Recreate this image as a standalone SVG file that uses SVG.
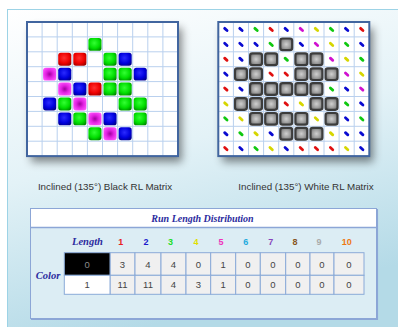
<svg xmlns="http://www.w3.org/2000/svg" xmlns:xlink="http://www.w3.org/1999/xlink" width="398" height="327" viewBox="0 0 398 327">
<defs>
<linearGradient id="bg" x1="0" y1="0" x2="0.3" y2="1">
<stop offset="0" stop-color="#ffffff"/>
<stop offset="0.5" stop-color="#e3f2f7"/>
<stop offset="1" stop-color="#b4dae7"/>
</linearGradient>
<radialGradient id="gG" cx="0.45" cy="0.4" r="0.7"><stop offset="0" stop-color="#33ff33"/><stop offset="0.6" stop-color="#00dd00"/><stop offset="1" stop-color="#008800"/></radialGradient>
<radialGradient id="gR" cx="0.45" cy="0.4" r="0.7"><stop offset="0" stop-color="#ff3030"/><stop offset="0.6" stop-color="#ee0000"/><stop offset="1" stop-color="#990000"/></radialGradient>
<radialGradient id="gB" cx="0.45" cy="0.4" r="0.7"><stop offset="0" stop-color="#2a2aff"/><stop offset="0.6" stop-color="#0000dd"/><stop offset="1" stop-color="#000088"/></radialGradient>
<radialGradient id="gM" cx="0.5" cy="0.5" r="0.6"><stop offset="0" stop-color="#a000a0"/><stop offset="0.45" stop-color="#e020e0"/><stop offset="1" stop-color="#ff55ff"/></radialGradient>
<radialGradient id="gK" cx="0.5" cy="0.5" r="0.6"><stop offset="0" stop-color="#d0d0d0"/><stop offset="0.6" stop-color="#9a9a9a"/><stop offset="1" stop-color="#6a6a6a"/></radialGradient>
<filter id="sh" x="-20%" y="-20%" width="145%" height="150%">
<feDropShadow dx="4" dy="6" stdDeviation="4" flood-color="#000" flood-opacity="0.45"/>
</filter>
<rect id="sq" x="1" y="1" width="13.1" height="12.9" rx="2.6"/>
<rect id="gs" x="1.6" y="1.6" width="11.9" height="11.7" rx="2.2" fill="url(#gK)" stroke="#3c3c3c" stroke-width="2.2"/>
<path id="d" d="M-1.2 -1.1L1.2 1.1"/>
<style>
.lbl{font-family:"Liberation Sans",Arial,sans-serif;font-size:9.8px;fill:#333;text-anchor:middle}
.hdr{font-family:"Liberation Serif","Times New Roman",serif;font-weight:bold;font-style:italic;fill:#2b2b9e;text-anchor:middle}
.num{font-family:"Liberation Sans",Arial,sans-serif;font-weight:bold;font-size:9px;text-anchor:middle}
.val{font-family:"Liberation Sans",Arial,sans-serif;font-size:9.5px;fill:#444;text-anchor:middle}
.gl{fill:none;stroke:#b9d0ee;stroke-width:1}
.gb{fill:none;stroke:#41659f;stroke-width:2}
.cell{fill:#f0f0f0;stroke:#8aaad8;stroke-width:1}
.dB{stroke:#0a0ad0;stroke-width:2.8;stroke-linecap:round}
.dG{stroke:#10c810;stroke-width:2.8;stroke-linecap:round}
.dR{stroke:#e01010;stroke-width:2.8;stroke-linecap:round}
.dM{stroke:#d010d0;stroke-width:2.8;stroke-linecap:round}
.dY{stroke:#d6d600;stroke-width:2.8;stroke-linecap:round}
</style>
</defs>

<rect x="0" y="0" width="398" height="327" fill="#ffffff"/>
<rect id="panel" x="7.5" y="9.5" width="395" height="322" fill="url(#bg)" stroke="#9dd3e6" stroke-width="1"/>

<g id="black-matrix">
<rect x="27" y="22" width="151" height="134.1" fill="#ffffff" filter="url(#sh)"/>
<path class="gl" d="M42.1 22V156.1M57.2 22V156.1M72.3 22V156.1M87.4 22V156.1M102.5 22V156.1M117.6 22V156.1M132.7 22V156.1M147.8 22V156.1M162.9 22V156.1M27 36.9H178M27 51.8H178M27 66.7H178M27 81.6H178M27 96.5H178M27 111.4H178M27 126.3H178M27 141.2H178"/>
<g fill="url(#gG)">
<use href="#sq" x="87.4" y="36.9"/>
<use href="#sq" x="102.5" y="51.8"/>
<use href="#sq" x="102.5" y="66.7"/><use href="#sq" x="117.6" y="66.7"/>
<use href="#sq" x="102.5" y="81.6"/><use href="#sq" x="117.6" y="81.6"/>
<use href="#sq" x="57.2" y="96.5"/><use href="#sq" x="117.6" y="96.5"/><use href="#sq" x="132.7" y="96.5"/>
<use href="#sq" x="72.3" y="111.4"/><use href="#sq" x="132.7" y="111.4"/>
<use href="#sq" x="87.4" y="126.3"/>
</g>
<g fill="url(#gR)">
<use href="#sq" x="57.2" y="51.8"/><use href="#sq" x="72.3" y="51.8"/>
<use href="#sq" x="87.4" y="81.6"/>
</g>
<g fill="url(#gB)">
<use href="#sq" x="117.6" y="51.8"/>
<use href="#sq" x="57.2" y="66.7"/><use href="#sq" x="132.7" y="66.7"/>
<use href="#sq" x="72.3" y="81.6"/>
<use href="#sq" x="42.1" y="96.5"/>
<use href="#sq" x="57.2" y="111.4"/><use href="#sq" x="102.5" y="111.4"/>
<use href="#sq" x="117.6" y="126.3"/>
</g>
<g fill="url(#gM)">
<use href="#sq" x="42.1" y="66.7"/>
<use href="#sq" x="57.2" y="81.6"/>
<use href="#sq" x="72.3" y="96.5"/>
<use href="#sq" x="87.4" y="111.4"/>
<use href="#sq" x="102.5" y="126.3"/>
</g>
<rect class="gb" x="27" y="22" width="151" height="134.1"/>
</g>

<g id="white-matrix">
<rect x="218.3" y="22" width="151" height="134.1" fill="#ffffff" filter="url(#sh)"/>
<path class="gl" d="M233.4 22V156.1M248.5 22V156.1M263.6 22V156.1M278.7 22V156.1M293.8 22V156.1M308.9 22V156.1M324 22V156.1M339.1 22V156.1M354.2 22V156.1M218.3 36.9H369.3M218.3 51.8H369.3M218.3 66.7H369.3M218.3 81.6H369.3M218.3 96.5H369.3M218.3 111.4H369.3M218.3 126.3H369.3M218.3 141.2H369.3"/>
<g>
<use href="#gs" x="278.7" y="36.9"/>
<use href="#gs" x="248.5" y="51.8"/><use href="#gs" x="263.6" y="51.8"/><use href="#gs" x="293.8" y="51.8"/><use href="#gs" x="308.9" y="51.8"/>
<use href="#gs" x="233.4" y="66.7"/><use href="#gs" x="248.5" y="66.7"/><use href="#gs" x="293.8" y="66.7"/><use href="#gs" x="308.9" y="66.7"/><use href="#gs" x="324" y="66.7"/>
<use href="#gs" x="248.5" y="81.6"/><use href="#gs" x="263.6" y="81.6"/><use href="#gs" x="278.7" y="81.6"/><use href="#gs" x="293.8" y="81.6"/><use href="#gs" x="308.9" y="81.6"/>
<use href="#gs" x="233.4" y="96.5"/><use href="#gs" x="248.5" y="96.5"/><use href="#gs" x="263.6" y="96.5"/><use href="#gs" x="308.9" y="96.5"/><use href="#gs" x="324" y="96.5"/>
<use href="#gs" x="248.5" y="111.4"/><use href="#gs" x="263.6" y="111.4"/><use href="#gs" x="278.7" y="111.4"/><use href="#gs" x="293.8" y="111.4"/><use href="#gs" x="324" y="111.4"/>
<use href="#gs" x="278.7" y="126.3"/><use href="#gs" x="293.8" y="126.3"/><use href="#gs" x="308.9" y="126.3"/>
</g>
<g class="dB">
<use href="#d" x="225.85" y="29.45"/><use href="#d" x="240.95" y="29.45"/><use href="#d" x="286.25" y="29.45"/><use href="#d" x="346.65" y="29.45"/>
<use href="#d" x="225.85" y="44.35"/><use href="#d" x="240.95" y="44.35"/><use href="#d" x="256.05" y="44.35"/><use href="#d" x="301.35" y="44.35"/><use href="#d" x="361.75" y="44.35"/>
<use href="#d" x="240.95" y="59.25"/>
<use href="#d" x="225.85" y="74.15"/>
<use href="#d" x="240.95" y="89.05"/><use href="#d" x="346.65" y="89.05"/>
<use href="#d" x="361.75" y="103.95"/>
<use href="#d" x="346.65" y="118.85"/>
<use href="#d" x="225.85" y="133.75"/><use href="#d" x="271.15" y="133.75"/><use href="#d" x="346.65" y="133.75"/><use href="#d" x="361.75" y="133.75"/>
<use href="#d" x="240.95" y="148.65"/><use href="#d" x="286.25" y="148.65"/><use href="#d" x="361.75" y="148.65"/>
</g>
<g class="dG">
<use href="#d" x="256.05" y="29.45"/><use href="#d" x="331.55" y="29.45"/>
<use href="#d" x="271.15" y="44.35"/><use href="#d" x="346.65" y="44.35"/>
<use href="#d" x="286.25" y="59.25"/><use href="#d" x="361.75" y="59.25"/>
<use href="#d" x="331.55" y="89.05"/>
<use href="#d" x="346.65" y="103.95"/>
<use href="#d" x="225.85" y="118.85"/><use href="#d" x="361.75" y="118.85"/>
<use href="#d" x="240.95" y="133.75"/>
<use href="#d" x="256.05" y="148.65"/>
</g>
<g class="dR">
<use href="#d" x="271.15" y="29.45"/><use href="#d" x="361.75" y="29.45"/>
<use href="#d" x="225.85" y="59.25"/>
<use href="#d" x="271.15" y="74.15"/><use href="#d" x="286.25" y="74.15"/>
<use href="#d" x="225.85" y="89.05"/>
<use href="#d" x="286.25" y="103.95"/>
<use href="#d" x="225.85" y="148.65"/><use href="#d" x="301.35" y="148.65"/><use href="#d" x="316.45" y="148.65"/><use href="#d" x="331.55" y="148.65"/>
</g>
<g class="dM">
<use href="#d" x="301.35" y="29.45"/>
<use href="#d" x="316.45" y="44.35"/>
<use href="#d" x="331.55" y="59.25"/>
<use href="#d" x="346.65" y="74.15"/>
<use href="#d" x="361.75" y="89.05"/>
</g>
<g class="dY">
<use href="#d" x="316.45" y="29.45"/>
<use href="#d" x="331.55" y="44.35"/>
<use href="#d" x="346.65" y="59.25"/>
<use href="#d" x="361.75" y="74.15"/>
<use href="#d" x="225.85" y="103.95"/><use href="#d" x="301.35" y="103.95"/>
<use href="#d" x="240.95" y="118.85"/><use href="#d" x="316.45" y="118.85"/>
<use href="#d" x="256.05" y="133.75"/><use href="#d" x="331.55" y="133.75"/>
<use href="#d" x="271.15" y="148.65"/><use href="#d" x="346.65" y="148.65"/>
</g>
<rect class="gb" x="218.3" y="22" width="151" height="134.1"/>
</g>

<g id="labels">
<text class="lbl" x="105" y="190">Inclined (135°) Black RL Matrix</text>
<text class="lbl" x="306" y="190">Inclined (135°) White RL Matrix</text>
</g>

<g id="distribution-table">
<rect x="30.5" y="208.5" width="346" height="110" fill="#dcedf4" stroke="#8ca6d6" stroke-width="1"/>
<path d="M377.3 209V319.3H31" fill="none" stroke="#8ca6d6" stroke-width="1.5"/>
<rect x="31" y="209" width="345" height="18" fill="#ffffff"/>
<path d="M31 227.5H376.5" stroke="#8ca6d6" stroke-width="1.6"/>
<text class="hdr" x="202.5" y="221.5" font-size="10">Run Length Distribution</text>
<text class="hdr" x="87.5" y="244.5" font-size="10.5">Length</text>
<text class="hdr" x="48" y="279" font-size="10.5">Color</text>
<g class="num">
<text x="120.7" y="244.5" fill="#e82020">1</text>
<text x="146" y="244.5" fill="#1a1acc">2</text>
<text x="170.5" y="244.5" fill="#22dd22">3</text>
<text x="196" y="244.5" fill="#e0e000">4</text>
<text x="221" y="244.5" fill="#ee33bb">5</text>
<text x="245.7" y="244.5" fill="#22aadd">6</text>
<text x="270.7" y="244.5" fill="#8844bb">7</text>
<text x="295" y="244.5" fill="#885522">8</text>
<text x="319" y="244.5" fill="#aaaaaa">9</text>
<text x="346.7" y="244.5" fill="#ee7711">10</text>
</g>
<g>
<rect class="cell" x="110" y="252.7" width="25" height="22.6"/>
<rect class="cell" x="135" y="252.7" width="26" height="22.6"/>
<rect class="cell" x="161" y="252.7" width="25" height="22.6"/>
<rect class="cell" x="186" y="252.7" width="24.7" height="22.6"/>
<rect class="cell" x="210.7" y="252.7" width="25" height="22.6"/>
<rect class="cell" x="235.7" y="252.7" width="24.6" height="22.6"/>
<rect class="cell" x="260.3" y="252.7" width="25.4" height="22.6"/>
<rect class="cell" x="285.7" y="252.7" width="24.3" height="22.6"/>
<rect class="cell" x="310" y="252.7" width="24" height="22.6"/>
<rect class="cell" x="334" y="252.7" width="30" height="22.6"/>
<rect class="cell" x="110" y="275.3" width="25" height="19"/>
<rect class="cell" x="135" y="275.3" width="26" height="19"/>
<rect class="cell" x="161" y="275.3" width="25" height="19"/>
<rect class="cell" x="186" y="275.3" width="24.7" height="19"/>
<rect class="cell" x="210.7" y="275.3" width="25" height="19"/>
<rect class="cell" x="235.7" y="275.3" width="24.6" height="19"/>
<rect class="cell" x="260.3" y="275.3" width="25.4" height="19"/>
<rect class="cell" x="285.7" y="275.3" width="24.3" height="19"/>
<rect class="cell" x="310" y="275.3" width="24" height="19"/>
<rect class="cell" x="334" y="275.3" width="30" height="19"/>
<rect x="64.3" y="252.7" width="45.7" height="22.6" fill="#000000" stroke="#8aaad8" stroke-width="1"/>
<rect x="64.3" y="275.3" width="45.7" height="19" fill="#ffffff" stroke="#8aaad8" stroke-width="1"/>
</g>
<text class="val" x="87.2" y="267.5" style="fill:#8a8a8a">0</text>
<text class="val" x="87.2" y="288">1</text>
<g class="val">
<text x="122.5" y="267.5">3</text><text x="148" y="267.5">4</text><text x="173.5" y="267.5">4</text><text x="198.4" y="267.5">0</text><text x="223.2" y="267.5">1</text><text x="248" y="267.5">0</text><text x="273" y="267.5">0</text><text x="297.9" y="267.5">0</text><text x="322" y="267.5">0</text><text x="349" y="267.5">0</text>
<text x="122.5" y="288">11</text><text x="148" y="288">11</text><text x="173.5" y="288">4</text><text x="198.4" y="288">3</text><text x="223.2" y="288">1</text><text x="248" y="288">0</text><text x="273" y="288">0</text><text x="297.9" y="288">0</text><text x="322" y="288">0</text><text x="349" y="288">0</text>
</g>
</g>
</svg>
